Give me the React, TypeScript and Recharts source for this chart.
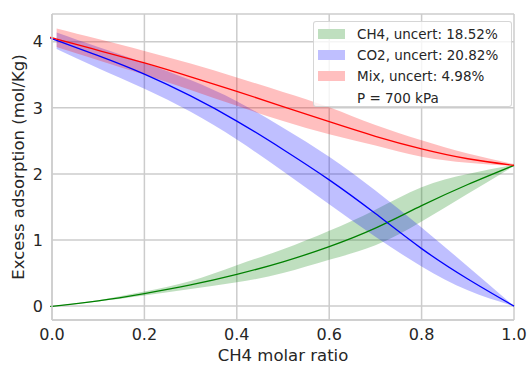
import React from 'react';
import {
  ComposedChart,
  Line,
  Area,
  XAxis,
  YAxis,
  CartesianGrid,
  Label,
} from 'recharts';

// CH4 molar ratio sample points (bands start a hair after 0)
const molarRatio = [0, 0.01, 0.1, 0.2, 0.3, 0.4, 0.5, 0.6, 0.7, 0.8, 0.9, 1.0];

const ch4Mean = [0, 0.005, 0.08, 0.19, 0.32, 0.48, 0.67, 0.9, 1.18, 1.52, 1.84, 2.13];
const ch4Low = [null, 0, 0.07, 0.16, 0.26, 0.36, 0.5, 0.7, 0.92, 1.28, 1.7, 2.12];
const ch4High = [null, 0.01, 0.09, 0.22, 0.38, 0.62, 0.86, 1.14, 1.46, 1.8, 2.0, 2.14];

const co2Mean = [4.05, 4.02, 3.79, 3.51, 3.18, 2.8, 2.37, 1.91, 1.4, 0.87, 0.41, 0];
const co2Low = [null, 3.89, 3.6, 3.29, 2.94, 2.52, 2.04, 1.54, 1.05, 0.6, 0.24, 0];
const co2High = [null, 4.14, 3.92, 3.68, 3.42, 3.1, 2.7, 2.26, 1.75, 1.19, 0.6, 0];

const mixMean = [4.06, 4.04, 3.87, 3.68, 3.47, 3.25, 3.02, 2.79, 2.57, 2.38, 2.23, 2.13];
const mixLow = [null, 3.92, 3.72, 3.5, 3.27, 3.03, 2.8, 2.6, 2.43, 2.26, 2.17, 2.12];
const mixHigh = [null, 4.2, 4.04, 3.86, 3.67, 3.46, 3.24, 3.01, 2.74, 2.51, 2.31, 2.15];

const xTicks = [0, 0.2, 0.4, 0.6, 0.8, 1.0];
const yTicks = [0, 1, 2, 3, 4];

const legendItems = [
  { label: 'CH4, uncert: 18.52%', color: '#bfdfbf' },
  { label: 'CO2, uncert: 20.82%', color: '#bfbfff' },
  { label: 'Mix, uncert: 4.98%', color: '#ffbfbf' },
  { label: 'P = 700 kPa', color: null },
];

const band = (lo: (number | null)[], hi: (number | null)[], i: number) =>
  lo[i] == null || hi[i] == null ? null : [lo[i], hi[i]];

const data = molarRatio.map((x, i) => ({
  x,
  ch4: ch4Mean[i],
  ch4Band: band(ch4Low, ch4High, i),
  co2: co2Mean[i],
  co2Band: band(co2Low, co2High, i),
  mix: mixMean[i],
  mixBand: band(mixLow, mixHigh, i),
}));

const FONT = '"DejaVu Sans", sans-serif';
const TEXT = '#262626';
const GRID = '#cccccc';

const tickStyle = { fill: TEXT, fontSize: 16, fontFamily: FONT };

function ChartLegend() {
  return (
    <div
      style={{
        position: 'absolute',
        left: 313,
        top: 21,
        width: 199,
        height: 86,
        background: 'rgba(255,255,255,0.8)',
        border: '1px solid rgba(204,204,204,0.8)',
        borderRadius: 3,
        boxSizing: 'border-box',
        fontFamily: FONT,
        fontSize: 13.5,
        color: TEXT,
      }}
    >
      {legendItems.map((item, i) => (
        <div
          key={item.label}
          style={{
            position: 'absolute',
            left: 4,
            top: 3 + i * 21.2,
            height: 18,
            display: 'flex',
            alignItems: 'center',
            whiteSpace: 'nowrap',
          }}
        >
          <span
            style={{
              display: 'inline-block',
              width: 27,
              height: 10,
              marginRight: 12,
              background: item.color ?? 'transparent',
            }}
          />
          {item.label}
        </div>
      ))}
    </div>
  );
}

export default function App() {
  return (
    <div style={{ position: 'absolute', left: 0, top: 0, width: 528, height: 365, background: '#fff' }}>
      <ComposedChart
        width={528}
        height={365}
        data={data}
        margin={{ top: 14, right: 14, bottom: 0, left: 0 }}
      >
        <CartesianGrid stroke={GRID} strokeWidth={1.5} />
        <XAxis
          dataKey="x"
          type="number"
          domain={[0, 1]}
          ticks={xTicks}
          tickFormatter={(v: number) => v.toFixed(1)}
          tick={tickStyle}
          tickLine={false}
          tickSize={0}
          tickMargin={9}
          axisLine={{ stroke: GRID, strokeWidth: 1.5 }}
          height={45}
        >
          <Label
            content={({ viewBox }: any) => (
              <text
                x={viewBox.x + viewBox.width / 2}
                y={viewBox.y + 41}
                textAnchor="middle"
                fill={TEXT}
                fontSize={16.5}
                fontFamily={FONT}
              >
                CH4 molar ratio
              </text>
            )}
          />
        </XAxis>
        <XAxis
          xAxisId="top"
          orientation="top"
          dataKey="x"
          type="number"
          domain={[0, 1]}
          tick={false}
          tickLine={false}
          height={0}
          axisLine={{ stroke: GRID, strokeWidth: 1.5 }}
        />
        <YAxis
          type="number"
          domain={[-0.21, 4.42]}
          ticks={yTicks}
          allowDataOverflow
          tick={tickStyle}
          tickLine={false}
          tickSize={0}
          tickMargin={9}
          axisLine={{ stroke: GRID, strokeWidth: 1.5 }}
          width={52}
        >
          <Label
            content={({ viewBox }: any) => {
              const cx = 18;
              const cy = viewBox.y + viewBox.height / 2;
              return (
                <text
                  x={cx}
                  y={cy}
                  transform={`rotate(-90 ${cx} ${cy})`}
                  textAnchor="middle"
                  dominantBaseline="central"
                  fill={TEXT}
                  fontSize={16.5}
                  fontFamily={FONT}
                >
                  Excess adsorption (mol/Kg)
                </text>
              );
            }}
          />
        </YAxis>
        <YAxis
          yAxisId="right"
          orientation="right"
          type="number"
          domain={[-0.21, 4.42]}
          tick={false}
          tickLine={false}
          width={0}
          axisLine={{ stroke: GRID, strokeWidth: 1.5 }}
        />

        <Area
          type="natural"
          dataKey="ch4Band"
          stroke="none"
          fill="#008000"
          fillOpacity={0.25}
          isAnimationActive={false}
        />
        <Area
          type="natural"
          dataKey="co2Band"
          stroke="none"
          fill="#0000ff"
          fillOpacity={0.25}
          isAnimationActive={false}
        />
        <Area
          type="natural"
          dataKey="mixBand"
          stroke="none"
          fill="#ff0000"
          fillOpacity={0.25}
          isAnimationActive={false}
        />
        <Line type="natural" dataKey="ch4" stroke="#008000" strokeWidth={1.3} dot={false} isAnimationActive={false} />
        <Line type="natural" dataKey="co2" stroke="#0000ff" strokeWidth={1.3} dot={false} isAnimationActive={false} />
        <Line type="natural" dataKey="mix" stroke="#ff0000" strokeWidth={1.3} dot={false} isAnimationActive={false} />
      </ComposedChart>
      <ChartLegend />
    </div>
  );
}
